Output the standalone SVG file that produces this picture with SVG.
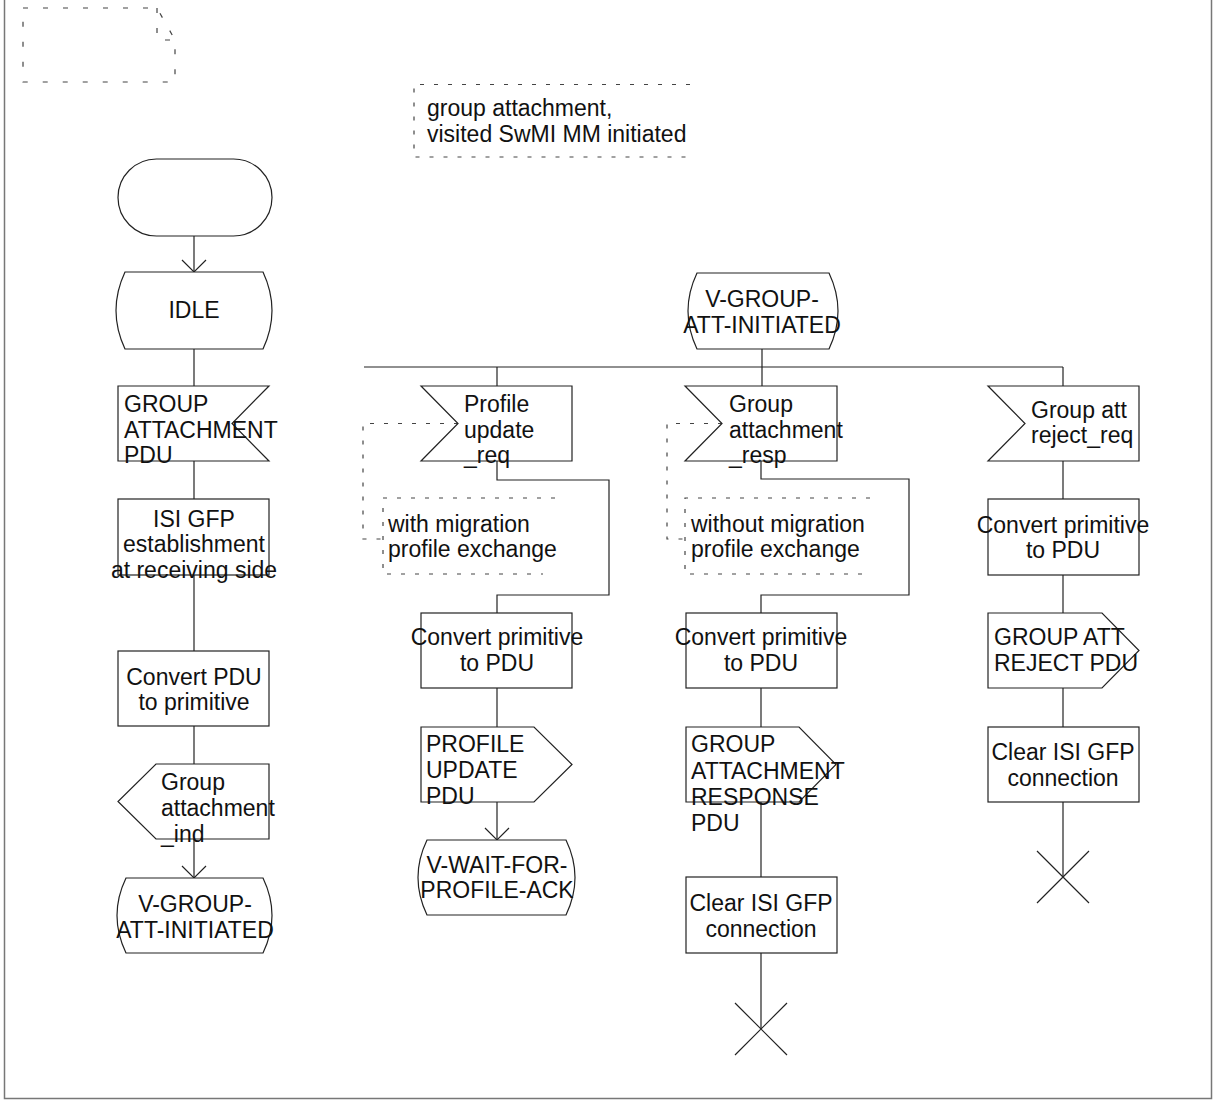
<svg xmlns="http://www.w3.org/2000/svg" width="1215" height="1102" viewBox="0 0 1215 1102">
<style>
.s{fill:#fff;stroke:#222;stroke-width:1.2}
.c{fill:none;stroke:#222;stroke-width:1.2}
.d{fill:none;stroke:#444;stroke-width:1.2;stroke-dasharray:4 10}
.t{font-family:"Liberation Sans",Arial,sans-serif;font-size:23px;fill:#111}
.m{text-anchor:middle}
</style>
<defs>
<marker id="ah" markerUnits="userSpaceOnUse" viewBox="-14 -14 28 28" markerWidth="28" markerHeight="28" refX="0" refY="0" orient="auto">
<path d="M-12,-12 L0,0 L-12,12" fill="none" stroke="#222" stroke-width="1.2"/>
</marker>
</defs>
<rect width="1215" height="1102" fill="#fff"/>
<path d="M4.5,0 V1098.5 H1211.5 V0" fill="none" stroke="#777" stroke-width="1.5"/>

<g id="page-symbol">
<path class="d" d="M23,8 H157 L175,40 V82 H23 Z" style="stroke-dasharray:5 15"/>
<path class="d" d="M157,8 V40 H175" style="stroke-dasharray:5 15"/>
</g>

<g id="title-comment">
<path class="d" d="M690,84.5 H414 V157 H690"/>
<text class="t" x="427" y="116">group attachment,</text>
<text class="t" x="427" y="142">visited SwMI MM initiated</text>
</g>

<g id="connectors">
<path class="c" d="M194,236 V272" marker-end="url(#ah)"/>
<path class="c" d="M194,349 V386"/>
<path class="c" d="M194,461 V499"/>
<path class="c" d="M194,575 V651"/>
<path class="c" d="M194,726 V764"/>
<path class="c" d="M194,839 V878" marker-end="url(#ah)"/>
<path class="c" d="M762,349 V386"/>
<path class="c" d="M364,367 H1063"/>
<path class="c" d="M497,367 V386"/>
<path class="c" d="M1063,367 V386"/>
<path class="c" d="M497,461 V480 H609 V595 H497 V613"/>
<path class="c" d="M761,461 V479 H909 V595 H761 V613"/>
<path class="c" d="M497,688 V727"/>
<path class="c" d="M497,802 V840" marker-end="url(#ah)"/>
<path class="c" d="M761,688 V727"/>
<path class="c" d="M761,802 V877"/>
<path class="c" d="M761,953 V1029"/>
<path class="c" d="M1063,461 V499"/>
<path class="c" d="M1063,575 V613"/>
<path class="c" d="M1063,688 V727"/>
<path class="c" d="M1063,802 V877"/>
<path class="d" d="M458,423.5 H363 V539 H383"/>
<path class="d" d="M722,423.5 H667 V539 H685"/>
</g>

<g id="start">
<rect class="s" x="118" y="159" width="154" height="77" rx="38.5"/>
</g>

<g id="idle">
<path class="s" d="M125,272 H263 Q281,310.5 263,349 H125 Q107,310.5 125,272 Z"/>
<text class="t m" x="194" y="318">IDLE</text>
</g>

<g id="in-group-attachment-pdu">
<path class="s" d="M118,386 H269 L232,423.5 L269,461 H118 Z"/>
<text class="t" x="124" y="412">GROUP</text>
<text class="t" x="124" y="437.5">ATTACHMENT</text>
<text class="t" x="124" y="463">PDU</text>
</g>

<g id="isi-gfp-establishment">
<rect class="s" x="118" y="499" width="151" height="76"/>
<text class="t m" x="194" y="527">ISI GFP</text>
<text class="t m" x="194" y="552">establishment</text>
<text class="t m" x="194" y="578">at receiving side</text>
</g>

<g id="convert-pdu-to-primitive">
<rect class="s" x="118" y="651" width="151" height="75"/>
<text class="t m" x="194" y="685">Convert PDU</text>
<text class="t m" x="194" y="710">to primitive</text>
</g>

<g id="out-group-attachment-ind">
<path class="s" d="M156,764 H269 V839 H156 L118,801.5 Z"/>
<text class="t" x="161" y="790">Group</text>
<text class="t" x="161" y="816">attachment</text>
<text class="t" x="161" y="842">_ind</text>
</g>

<g id="state-v-group-att-initiated-left">
<path class="s" d="M126,878 H263 Q281,915.5 263,953 H126 Q108,915.5 126,878 Z"/>
<text class="t m" x="195" y="912">V-GROUP-</text>
<text class="t m" x="195" y="938">ATT-INITIATED</text>
</g>

<g id="state-v-group-att-initiated">
<path class="s" d="M697,273 H829 Q847,311 829,349 H697 Q679,311 697,273 Z"/>
<text class="t m" x="762" y="307">V-GROUP-</text>
<text class="t m" x="762" y="333">ATT-INITIATED</text>
</g>

<g id="in-profile-update-req">
<path class="s" d="M421,386 H572 V461 H421 L458,423.5 Z"/>
<text class="t" x="464" y="412">Profile</text>
<text class="t" x="464" y="437.5">update</text>
<text class="t" x="464" y="463">_req</text>
</g>

<g id="comment-with-migration">
<path class="d" d="M555,498 H383 V574 H543"/>
<text class="t" x="388" y="532">with migration</text>
<text class="t" x="388" y="557">profile exchange</text>
</g>

<g id="convert-primitive-to-pdu-1">
<rect class="s" x="421" y="613" width="151" height="75"/>
<text class="t m" x="497" y="645">Convert primitive</text>
<text class="t m" x="497" y="671">to PDU</text>
</g>

<g id="out-profile-update-pdu">
<path class="s" d="M421,727 H534 L572,764.5 L534,802 H421 Z"/>
<text class="t" x="426" y="752">PROFILE</text>
<text class="t" x="426" y="778">UPDATE</text>
<text class="t" x="426" y="804">PDU</text>
</g>

<g id="state-v-wait-for-profile-ack">
<path class="s" d="M427,840 H566 Q584,877.5 566,915 H427 Q409,877.5 427,840 Z"/>
<text class="t m" x="497" y="873">V-WAIT-FOR-</text>
<text class="t m" x="497" y="898">PROFILE-ACK</text>
</g>

<g id="in-group-attachment-resp">
<path class="s" d="M685,386 H837 V461 H685 L722,423.5 Z"/>
<text class="t" x="729" y="412">Group</text>
<text class="t" x="729" y="437.5">attachment</text>
<text class="t" x="729" y="463">_resp</text>
</g>

<g id="comment-without-migration">
<path class="d" d="M870,498 H685 V574 H863"/>
<text class="t" x="691" y="532">without migration</text>
<text class="t" x="691" y="557">profile exchange</text>
</g>

<g id="convert-primitive-to-pdu-2">
<rect class="s" x="686" y="613" width="151" height="75"/>
<text class="t m" x="761" y="645">Convert primitive</text>
<text class="t m" x="761" y="671">to PDU</text>
</g>

<g id="out-group-attachment-response-pdu">
<path class="s" d="M686,727 H799 L836,764.5 L799,802 H686 Z"/>
<text class="t" x="691" y="752">GROUP</text>
<text class="t" x="691" y="778.5">ATTACHMENT</text>
<text class="t" x="691" y="805">RESPONSE</text>
<text class="t" x="691" y="831">PDU</text>
</g>

<g id="clear-isi-gfp-1">
<rect class="s" x="686" y="877" width="151" height="76"/>
<text class="t m" x="761" y="911">Clear ISI GFP</text>
<text class="t m" x="761" y="937">connection</text>
</g>

<g id="stop-1">
<path class="c" d="M735,1003 L787,1055 M787,1003 L735,1055"/>
</g>

<g id="in-group-att-reject-req">
<path class="s" d="M988,386 H1139 V461 H988 L1025,423.5 Z"/>
<text class="t" x="1031" y="418">Group att</text>
<text class="t" x="1031" y="443">reject_req</text>
</g>

<g id="convert-primitive-to-pdu-3">
<rect class="s" x="988" y="499" width="151" height="76"/>
<text class="t m" x="1063" y="533">Convert primitive</text>
<text class="t m" x="1063" y="558">to PDU</text>
</g>

<g id="out-group-att-reject-pdu">
<path class="s" d="M988,613 H1102 L1139,650.5 L1102,688 H988 Z"/>
<text class="t" x="994" y="645">GROUP ATT</text>
<text class="t" x="994" y="671">REJECT PDU</text>
</g>

<g id="clear-isi-gfp-2">
<rect class="s" x="988" y="727" width="151" height="75"/>
<text class="t m" x="1063" y="760">Clear ISI GFP</text>
<text class="t m" x="1063" y="786">connection</text>
</g>

<g id="stop-2">
<path class="c" d="M1037,851 L1089,903 M1089,851 L1037,903"/>
</g>
</svg>
